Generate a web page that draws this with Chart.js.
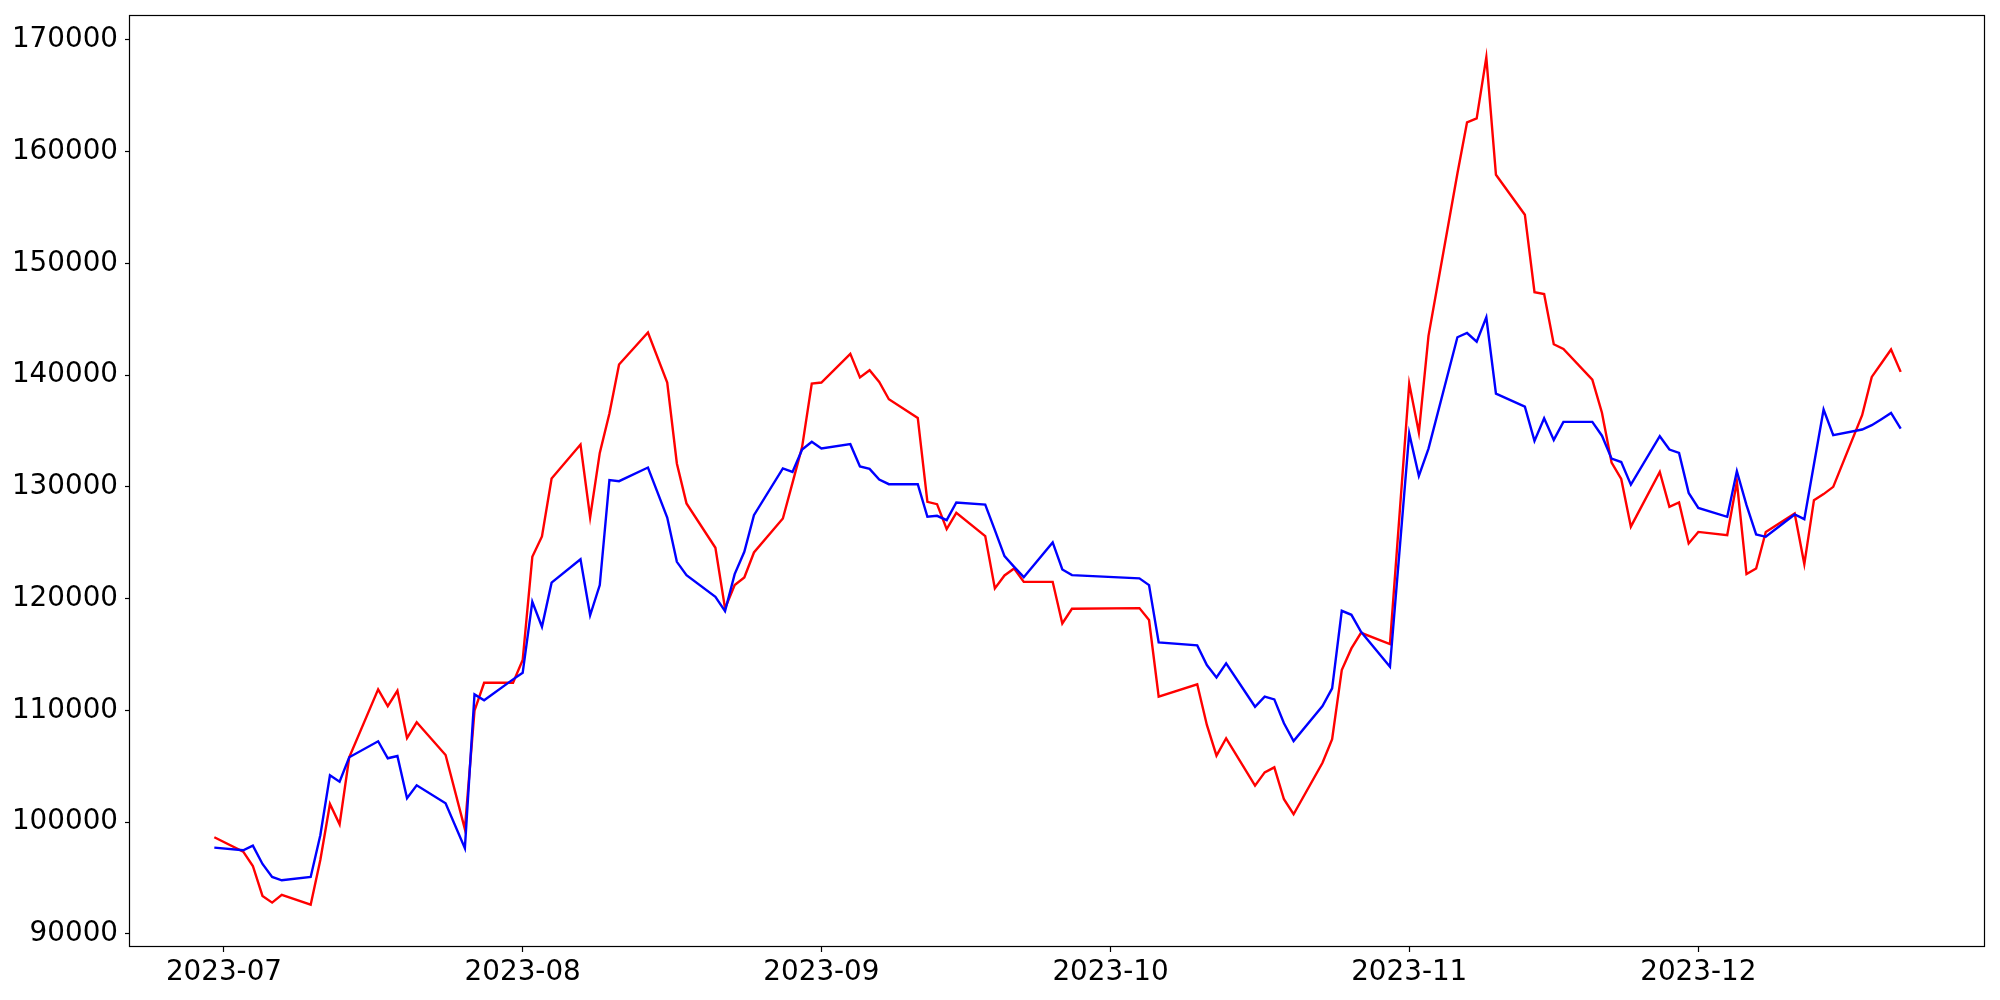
<!DOCTYPE html>
<html>
<head>
<meta charset="utf-8">
<script src="https://cdn.jsdelivr.net/npm/chart.js@4/dist/chart.umd.min.js"></script>
<style>
	body { margin: 0; background: #fff; }
	#wrap { width: 2000px; height: 1000px; }
</style>
</head>
<body>
<div id="wrap"><canvas id="lineChart" width="2000" height="1000"></canvas></div>
<script>
const dates = [
	'2023-06-30',
	'2023-07-03', '2023-07-04', '2023-07-05', '2023-07-06', '2023-07-07', '2023-07-10', '2023-07-11', '2023-07-12', '2023-07-13', '2023-07-14',
	'2023-07-17', '2023-07-18', '2023-07-19', '2023-07-20', '2023-07-21', '2023-07-24', '2023-07-26', '2023-07-27', '2023-07-28', '2023-07-31',
	'2023-08-01', '2023-08-02', '2023-08-03', '2023-08-04', '2023-08-07', '2023-08-08', '2023-08-09', '2023-08-10', '2023-08-11', '2023-08-14',
	'2023-08-16', '2023-08-17', '2023-08-18', '2023-08-21', '2023-08-22', '2023-08-23', '2023-08-24', '2023-08-25', '2023-08-28', '2023-08-29',
	'2023-08-30', '2023-08-31',
	'2023-09-01', '2023-09-04', '2023-09-05', '2023-09-06', '2023-09-07', '2023-09-08', '2023-09-11', '2023-09-12', '2023-09-13', '2023-09-14',
	'2023-09-15', '2023-09-18', '2023-09-19', '2023-09-20', '2023-09-21', '2023-09-22', '2023-09-25', '2023-09-26', '2023-09-27',
	'2023-10-04', '2023-10-05', '2023-10-06', '2023-10-10', '2023-10-11', '2023-10-12', '2023-10-13', '2023-10-16', '2023-10-17', '2023-10-18',
	'2023-10-19', '2023-10-20', '2023-10-23', '2023-10-24', '2023-10-25', '2023-10-26', '2023-10-27', '2023-10-30',
	'2023-11-01', '2023-11-02', '2023-11-03', '2023-11-06', '2023-11-07', '2023-11-08', '2023-11-09', '2023-11-10', '2023-11-13', '2023-11-14',
	'2023-11-15', '2023-11-16', '2023-11-17', '2023-11-20', '2023-11-21', '2023-11-22', '2023-11-23', '2023-11-24', '2023-11-27', '2023-11-28',
	'2023-11-29', '2023-11-30',
	'2023-12-01', '2023-12-04', '2023-12-05', '2023-12-06', '2023-12-07', '2023-12-08', '2023-12-11', '2023-12-12', '2023-12-13', '2023-12-14',
	'2023-12-15', '2023-12-18', '2023-12-19', '2023-12-20', '2023-12-21', '2023-12-22'
];

const redValues = [
	98640,
	97350, 96070, 93390, 92790, 93480, 92610, 96610, 101620, 99800, 105800,
	111880, 110380, 111750, 107520, 108930, 106000, 99370, 109970, 112470, 112470,
	114500, 123740, 125560, 130750, 133790, 127260, 133040, 136560, 140950, 143810,
	139340, 132090, 128520, 124550, 119120, 121210, 121890, 124130, 127170, 130360,
	133580, 139250,
	139340, 141900, 139800, 140440, 139390, 137840, 136170, 128660, 128450, 126220,
	127670, 125590, 120910, 122070, 122700, 121500, 121500, 117780, 119090,
	119150, 118080, 111220, 112330, 108690, 105940, 107500, 103260, 104450, 104900,
	102040, 100700, 105310, 107410, 113600, 115540, 116940, 115930,
	139240, 134860, 143510, 158050, 162630, 162980, 168440, 157930, 154360, 147420,
	147260, 142760, 142340, 139590, 136640, 132170, 130710, 126440, 131340, 128210,
	128600, 124940,
	125970, 125680, 130450, 122190, 122700, 125970, 127620, 123090, 128810, 129350,
	130000, 136410, 139840, 141060, 142290, 140290
];

const blueValues = [
	97710,
	97480, 97890, 96250, 95090, 94790, 95090, 98820, 104190, 103610, 105800,
	107230, 105710, 105910, 102130, 103290, 101680, 97660, 111430, 110900, 112770,
	113360, 119710, 117480, 121430, 123520, 118510, 121210, 130600, 130510, 131730,
	127260, 123290, 122100, 120160, 118880, 122190, 124190, 127470, 131650, 131340,
	133340, 134030,
	133430, 133820, 131820, 131610, 130660, 130240, 130240, 127320, 127410, 127020,
	128600, 128420, 126130, 123800, 122840, 121920, 125030, 122610, 122100,
	121810, 121210, 116080, 115810, 114050, 112950, 114200, 110320, 111220, 110980,
	108840, 107250, 110380, 111970, 118910, 118550, 117030, 113900,
	134780, 130980, 133420, 143390, 143770, 143000, 145170, 138340, 137180, 134110,
	136140, 134200, 135820, 135820, 134580, 132530, 132220, 130200, 134530, 133340,
	133040, 129460,
	128120, 127320, 131400, 128360, 125740, 125530, 127530, 127110, 132030, 136920,
	134620, 135130, 135520, 136060, 136620, 135220
];

const monthStarts = ['2023-07-01', '2023-08-01', '2023-09-01', '2023-10-01', '2023-11-01', '2023-12-01'];
const monthLabels = ['2023-07', '2023-08', '2023-09', '2023-10', '2023-11', '2023-12'];
const yTicks = [90000, 100000, 110000, 120000, 130000, 140000, 150000, 160000, 170000];

// days counted from 2023-07-01, so the x axis is a plain linear scale
const toDay = (s) => {
	let p = s.split('-');
	return (Date.UTC(+p[0], +p[1] - 1, +p[2]) - Date.UTC(2023, 6, 1)) / 86400000;
};

const xs = dates.map(toDay);
const tickDays = monthStarts.map(toDay);

// matplotlib style 5% margins
const pad = (lo, hi) => [lo - (hi - lo) * 0.05, hi + (hi - lo) * 0.05];
const xRange = pad(Math.min(...xs), Math.max(...xs));
const allY = redValues.concat(blueValues);
const yRange = pad(Math.min(...allY), Math.max(...allY));

// full box around the plot, like matplotlib spines
const frameBox = {
	id: 'frameBox',
	afterDatasetsDraw: (chart) => {
		let { ctx, chartArea } = chart;
		let l = Math.round(chartArea.left) - 0.5;
		let t = Math.round(chartArea.top) + 0.5;
		let r = Math.round(chartArea.right) - 0.5;
		let b = Math.round(chartArea.bottom) - 0.5;
		ctx.save();
		ctx.strokeStyle = '#000';
		ctx.lineWidth = 1.2;
		ctx.strokeRect(l, t, r - l, b - t);
		ctx.restore();
	}
};

const tickFont = { family: '"DejaVu Sans", sans-serif', size: 27.8 };

let ctx = document.getElementById('lineChart').getContext('2d');
let myChart = new Chart(ctx, {
	type: 'line',
	data: {
		datasets: [
			{
				label: 'red',
				data: xs.map((x, i) => ({ x: x, y: redValues[i] })),
				borderColor: '#ff0000',
				borderWidth: 2.4,
				pointRadius: 0,
				fill: false,
				tension: 0,
				order: 1
			},
			{
				label: 'blue',
				data: xs.map((x, i) => ({ x: x, y: blueValues[i] })),
				borderColor: '#0000ff',
				borderWidth: 2.4,
				pointRadius: 0,
				fill: false,
				tension: 0,
				order: 0
			}
		]
	},
	options: {
		responsive: false,
		animation: false,
		devicePixelRatio: 1,
		layout: {
			padding: { left: 0, right: 15, top: 15, bottom: 0 }
		},
		scales: {
			x: {
				type: 'linear',
				min: xRange[0],
				max: xRange[1],
				afterBuildTicks: (scale) => {
					scale.ticks = tickDays.map((v) => ({ value: v }));
				},
				afterFit: (scale) => {
					scale.height = 53;
					scale.paddingLeft = 0;
					scale.paddingRight = 0;
				},
				ticks: {
					color: '#000',
					font: tickFont,
					padding: 4,
					maxRotation: 0,
					autoSkip: false,
					callback: (value) => monthLabels[tickDays.indexOf(value)]
				},
				grid: {
					drawOnChartArea: false,
					tickLength: 5,
					tickColor: '#000',
					tickWidth: 1.2
				},
				border: { display: false }
			},
			y: {
				min: yRange[0],
				max: yRange[1],
				afterBuildTicks: (scale) => {
					scale.ticks = yTicks.map((v) => ({ value: v }));
				},
				afterFit: (scale) => {
					scale.width = 130;
					scale.paddingTop = 0;
					scale.paddingBottom = 0;
				},
				ticks: {
					color: '#000',
					font: tickFont,
					padding: 7,
					autoSkip: false,
					callback: (value) => String(value)
				},
				grid: {
					drawOnChartArea: false,
					tickLength: 5,
					tickColor: '#000',
					tickWidth: 1.2
				},
				border: { display: false }
			}
		},
		plugins: {
			legend: { display: false },
			tooltip: { enabled: false }
		}
	},
	plugins: [frameBox]
});
</script>
</body>
</html>
